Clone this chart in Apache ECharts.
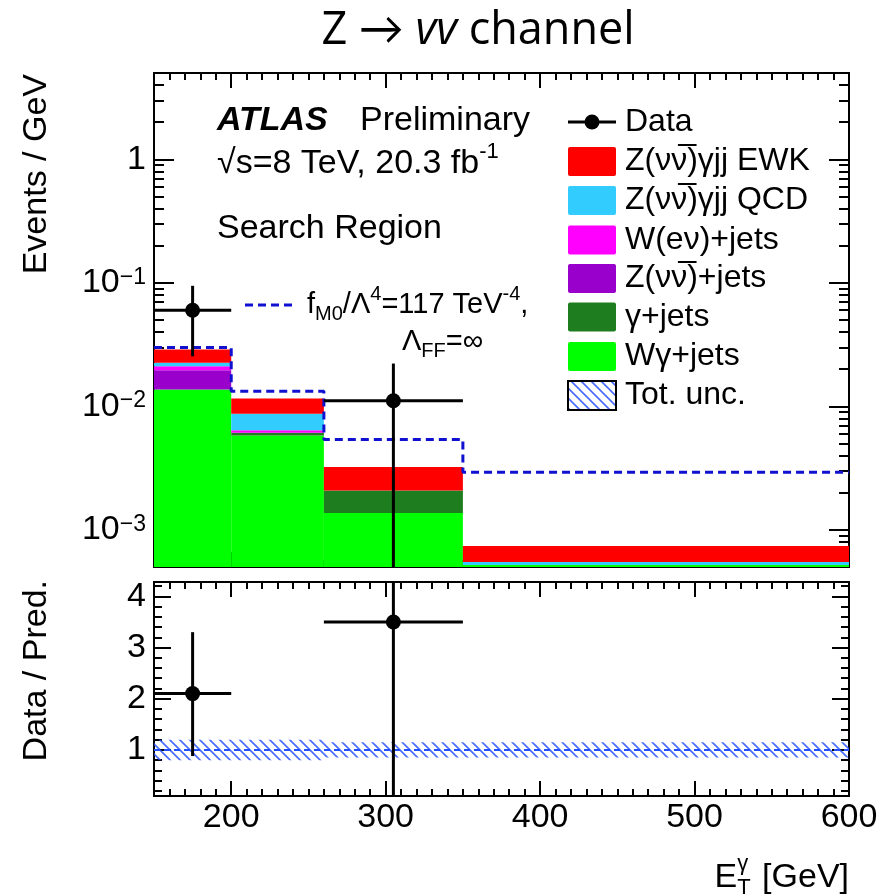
<!DOCTYPE html>
<html><head><meta charset="utf-8">
<script src="https://cdn.jsdelivr.net/npm/echarts@6/dist/echarts.min.js"></script>
<style>html,body{margin:0;padding:0;background:#fff}#c{width:881px;height:894px}</style>
</head><body><div id="c"></div>
<script>
// ---------- data ----------
const binEdges   = [150, 200, 260, 350, 600];
const wgammaJets = [0.01368, 0.00580, 0.00137, 0.00052];   // W gamma + jets
const gammaJets  = [0.00000, 0.00030, 0.00071, 0.00000];   // gamma + jets
const zJets      = [0.00594, 0.00000, 0.00000, 0.00000];   // Z(nunu) + jets
const wJets      = [0.00151, 0.00030, 0.00000, 0.00000];   // W(e nu) + jets
const zgQCD      = [0.00136, 0.00229, 0.00000, 0.00003];   // Z(nunu) gamma jj QCD
const zgEWK      = [0.00641, 0.00287, 0.00115, 0.00019];   // Z(nunu) gamma jj EWK
const signalFM0  = [0.0300, 0.01327, 0.00538, 0.00292];    // fM0 signal (dashed)
const dataX   = [175, 305];
const dataXLo = [150, 260];
const dataXHi = [200, 350];
const dataY   = [0.060, 0.0111];
const dataYLo = [0.0254, 0];
const dataYHi = [0.0946, 0.0222];
const ratioY  = [2.1, 3.5];
const ratioLo = [0.88, 0];
const ratioHi = [3.3, 6.9];
const uncRel  = [0.2, 0.2, 0.15, 0.15];
const logMajorTicks = [0.001, 0.01, 0.1, 1];
const ratioMajorTicks = [1, 2, 3, 4];
const xMajorTicks = [200, 300, 400, 500];
const xTickLabels = [200, 300, 400, 500, 600];
const yMin = 5e-4, yMax = 5;
const rMin = 0.1, rMax = 4.28;

const components = [
  {name: 'Wγ+jets', vals: wgammaJets, color: '#00ff00'},
  {name: 'γ+jets', vals: gammaJets, color: '#1e7d1e'},
  {name: 'Z(νν̅)+jets', vals: zJets, color: '#9900cc'},
  {name: 'W(eν)+jets', vals: wJets, color: '#ff00ff'},
  {name: 'Z(νν̅)γjj QCD', vals: zgQCD, color: '#33ccff'},
  {name: 'Z(νν̅)γjj EWK', vals: zgEWK, color: '#ff0000'}
];

// ---------- helpers ----------
const FF = '"Liberation Sans", Arial, sans-serif';
const mctx = document.createElement('canvas').getContext('2d');
function tw(t, font) { mctx.font = font; return mctx.measureText(t).width; }
function seqText(x, y, pieces, anchor) {
  let total = 0;
  pieces.forEach(p => { total += (p.adv !== undefined ? p.adv : tw(p.t, p.font)); });
  let cx = anchor === 'right' ? x - total : (anchor === 'center' ? x - total / 2 : x);
  return pieces.map(p => {
    const el = {type: 'text', x: cx, y: y + (p.dy || 0), z: 100,
      style: {text: p.t, font: p.font, fill: '#000', align: 'left', verticalAlign: 'middle'}};
    cx += (p.adv !== undefined ? p.adv : tw(p.t, p.font));
    return el;
  });
}
// hatch pattern
const hc = document.createElement('canvas'); hc.width = 10; hc.height = 10;
(function () {
  const g = hc.getContext('2d');
  g.strokeStyle = 'rgba(40,80,255,0.85)'; g.lineWidth = 1.6;
  g.beginPath();
  g.moveTo(-2, -2); g.lineTo(12, 12);
  g.moveTo(-7, 3); g.lineTo(7, 17);
  g.moveTo(3, -7); g.lineTo(17, 7);
  g.stroke();
})();
const hatch = {image: hc, repeat: 'repeat'};

// ---------- series data ----------
const stackSeries = [];
const cum = binEdges.slice(0, -1).map(() => 0);
components.forEach(c => {
  const d = [];
  c.vals.forEach((v, i) => {
    const lo = cum[i]; const hi = cum[i] + v; cum[i] = hi;
    d.push([binEdges[i], binEdges[i + 1], lo, hi]);
  });
  stackSeries.push({
    type: 'custom', name: c.name, xAxisIndex: 0, yAxisIndex: 0, clip: true, z: 2,
    encode: {x: [0, 1], y: [3]},
    data: d,
    renderItem: function (params, api) {
      const x0 = api.value(0), x1 = api.value(1), lo = api.value(2), hi = api.value(3);
      if (!(hi > lo)) return null;
      const cs = params.coordSys;
      const pTL = api.coord([x0, hi]);
      const pTR = api.coord([x1, hi]);
      const yb = lo > yMin ? api.coord([x0, lo])[1] : cs.y + cs.height;
      return {type: 'rect', shape: {x: pTL[0], y: pTL[1], width: pTR[0] - pTL[0], height: yb - pTL[1]},
        style: {fill: c.color}};
    }
  });
});

const sigData = signalFM0.map((v, i) => [binEdges[i], v]);
sigData.push([binEdges[binEdges.length - 1], signalFM0[signalFM0.length - 1]]);

function pointsRender(params, api) {
  const x = api.value(0), xl = api.value(1), xh = api.value(2), y = api.value(3), yl = api.value(4), yh = api.value(5);
  const cs = params.coordSys;
  const c = api.coord([x, y]);
  const l = api.coord([xl, y]); const r = api.coord([xh, y]);
  const t = api.coord([x, yh]);
  let b;
  if (yl > 0) { b = api.coord([x, yl])[1]; } else { b = cs.y + cs.height; }
  const ls = {stroke: '#000', lineWidth: 3};
  return {type: 'group', children: [
    {type: 'line', shape: {x1: l[0], y1: c[1], x2: r[0], y2: c[1]}, style: ls},
    {type: 'line', shape: {x1: c[0], y1: Math.max(t[1], cs.y), x2: c[0], y2: Math.min(b, cs.y + cs.height)}, style: ls},
    {type: 'circle', shape: {cx: c[0], cy: c[1], r: 7.5}, style: {fill: '#000'}}
  ]};
}
const dataPts = dataX.map((x, i) => [x, dataXLo[i], dataXHi[i], dataY[i], dataYLo[i], dataYHi[i]]);
const ratioPts = dataX.map((x, i) => [x, dataXLo[i], dataXHi[i], ratioY[i], ratioLo[i], ratioHi[i]]);
const bandData = uncRel.map((u, i) => [binEdges[i], binEdges[i + 1], 1 - u, 1 + u]);

// minor log ticks
const logMinorTicks = [];
for (let d = -4; d <= 0; d++) for (let m = 2; m <= 9; m++) {
  const v = +(m * Math.pow(10, d)).toPrecision(3);
  if (v >= yMin && v <= yMax) logMinorTicks.push(v);
}
const ratioMinorTicks = [];
for (let k = 1; k <= 21; k++) { const v = +(k * 0.2).toFixed(1); if (v > rMin && v < rMax && v % 1 !== 0) ratioMinorTicks.push(v); }

// ---------- axes ----------
const tickStyle = {color: '#000', width: 2};
function xAx(grid, pos, major, labels) {
  const base = {type: 'value', gridIndex: grid, position: pos, min: 150, max: 600,
    axisLine: {show: false}, splitLine: {show: false}};
  if (major) {
    return Object.assign(base, {interval: 50,
      axisTick: {show: true, inside: true, length: 15, lineStyle: tickStyle, customValues: xMajorTicks},
      axisLabel: labels ? {show: true, customValues: xTickLabels, margin: 5, fontSize: 34, fontFamily: FF, color: '#000'} : {show: false}});
  }
  return Object.assign(base, {interval: 10,
    axisTick: {show: true, inside: true, length: 7, lineStyle: tickStyle}, axisLabel: {show: false}});
}
function logAx(pos, major, labels) {
  return {type: 'log', logBase: 10, gridIndex: 0, position: pos, min: yMin, max: yMax,
    axisLine: {show: false}, splitLine: {show: false}, minorTick: {show: false},
    axisTick: {show: true, inside: true, length: major ? 20 : 10, lineStyle: tickStyle,
      customValues: major ? logMajorTicks : logMinorTicks},
    axisLabel: labels ? {show: true, customValues: logMajorTicks, margin: 8, color: '#000',
      formatter: function (v) {
        if (Math.abs(v - 1) < 1e-9) return '{b|1}';
        const e = Math.round(Math.log10(v));
        return '{b|10}{s|−' + (-e) + '}';
      },
      rich: {b: {fontSize: 34, fontFamily: FF, color: '#000'}, s: {fontSize: 23, fontFamily: FF, color: '#000', verticalAlign: 'top'}}
    } : {show: false}};
}
function rAx(pos, major, labels) {
  return {type: 'value', gridIndex: 1, position: pos, min: rMin, max: rMax,
    axisLine: {show: false}, splitLine: {show: false},
    axisTick: {show: true, inside: true, length: major ? 17 : 8, lineStyle: tickStyle,
      customValues: major ? ratioMajorTicks : ratioMinorTicks},
    axisLabel: labels ? {show: true, customValues: ratioMajorTicks, margin: 8, fontSize: 34, fontFamily: FF, color: '#000'} : {show: false}};
}

// ---------- graphic texts ----------
const F34 = '34px ' + FF, F22 = '22px ' + FF, F29 = '29px ' + FF, F20 = '20px ' + FF, F32 = '32px ' + FF;
const TF = '"Open Sans", Lato, sans-serif';
let gfx = [];
gfx = gfx.concat(seqText(478, 31, [
  {t: 'Z → ', font: '45px ' + TF},
  {t: 'vv', font: 'italic 45px ' + TF},
  {t: ' channel', font: '45px ' + TF}], 'center'));
gfx.push({type: 'text', x: 217, y: 121, z: 100, style: {text: 'ATLAS', font: 'italic bold 34px ' + FF, fill: '#000', verticalAlign: 'middle'}});
gfx.push({type: 'text', x: 360, y: 121, z: 100, style: {text: 'Preliminary', font: F34, fill: '#000', verticalAlign: 'middle'}});
gfx = gfx.concat(seqText(217, 164, [{t: '√s=8 TeV, 20.3 fb', font: F34}, {t: '-1', font: F22, dy: -12}], 'left'));
gfx.push({type: 'text', x: 217, y: 229, z: 100, style: {text: 'Search Region', font: F34, fill: '#000', verticalAlign: 'middle'}});
// signal legend
gfx.push({type: 'line', z: 100, shape: {x1: 245, y1: 305, x2: 297, y2: 305}, style: {stroke: '#1010d0', lineWidth: 3, lineDash: [8, 5]}});
gfx = gfx.concat(seqText(307, 305, [
  {t: 'f', font: F29}, {t: 'M0', font: F20, dy: 9}, {t: '/Λ', font: F29}, {t: '4', font: F20, dy: -11},
  {t: '=117 TeV', font: F29}, {t: '-4', font: F20, dy: -11}, {t: ',', font: F29}], 'left'));
gfx = gfx.concat(seqText(402, 342, [{t: 'Λ', font: F29}, {t: 'FF', font: F20, dy: 9}, {t: '=∞', font: F29}], 'left'));
// main legend
const legY = [122, 161.5, 200.5, 240, 278.5, 317, 356.5, 395.5];
const legBoxX = 568, legBoxW = 48, legBoxH = 29, legTextX = 625;
gfx.push({type: 'line', z: 100, shape: {x1: legBoxX, y1: legY[0], x2: legBoxX + legBoxW, y2: legY[0]}, style: {stroke: '#000', lineWidth: 3}});
gfx.push({type: 'circle', z: 100, shape: {cx: legBoxX + legBoxW / 2, cy: legY[0], r: 7.5}, style: {fill: '#000'}});
gfx.push({type: 'text', x: legTextX, y: legY[0], z: 100, style: {text: 'Data', font: F32, fill: '#000', verticalAlign: 'middle'}});
const legOrder = components.slice().reverse();
legOrder.forEach((c, i) => {
  const y = legY[i + 1];
  gfx.push({type: 'rect', z: 100, shape: {x: legBoxX, y: y - legBoxH / 2, width: legBoxW, height: legBoxH, r: 2}, style: {fill: c.color}});
  gfx.push({type: 'text', x: legTextX, y: y, z: 100, style: {text: c.name, font: F32, fill: '#000', verticalAlign: 'middle'}});
});
gfx.push({type: 'rect', z: 100, shape: {x: legBoxX, y: legY[7] - legBoxH / 2, width: legBoxW, height: legBoxH}, style: {fill: hatch, stroke: '#000', lineWidth: 2}});
gfx.push({type: 'text', x: legTextX, y: legY[7], z: 100, style: {text: 'Tot. unc.', font: F32, fill: '#000', verticalAlign: 'middle'}});
// axis titles
gfx.push({type: 'text', x: 37, y: 74, rotation: Math.PI / 2, z: 100, style: {text: 'Events / GeV', font: F34, fill: '#000', align: 'right', verticalAlign: 'middle'}});
gfx.push({type: 'text', x: 37, y: 580, rotation: Math.PI / 2, z: 100, style: {text: 'Data / Pred.', font: F34, fill: '#000', align: 'right', verticalAlign: 'middle'}});
const gw = Math.max(tw('γ', F22), tw('T', F22));
gfx = gfx.concat(seqText(849, 878, [
  {t: 'E', font: F34}, {t: 'γ', font: F22, dy: -14, adv: 0}, {t: 'T', font: F22, dy: 10, adv: gw + 2}, {t: ' [GeV]', font: F34}], 'right'));

// ---------- chart ----------
const chart = echarts.init(document.getElementById('c'), null, {renderer: 'canvas'});
chart.setOption({
  animation: false,
  backgroundColor: '#fff',
  grid: [
    {left: 154, right: 32, top: 73, height: 494, show: true, borderColor: '#000', borderWidth: 2, backgroundColor: 'transparent', outerBoundsMode: 'none', containLabel: false},
    {left: 154, right: 32, top: 582, height: 214, show: true, borderColor: '#000', borderWidth: 2, backgroundColor: 'transparent', outerBoundsMode: 'none', containLabel: false}
  ],
  xAxis: [
    xAx(0, 'bottom', true, false), xAx(0, 'bottom', false, false), xAx(0, 'top', true, false), xAx(0, 'top', false, false),
    xAx(1, 'bottom', true, true), xAx(1, 'bottom', false, false), xAx(1, 'top', true, false), xAx(1, 'top', false, false)
  ],
  yAxis: [
    logAx('left', true, true), logAx('left', false, false), logAx('right', true, false), logAx('right', false, false),
    rAx('left', true, true), rAx('left', false, false), rAx('right', true, false), rAx('right', false, false)
  ],
  series: stackSeries.concat([
    {type: 'line', name: 'signal', xAxisIndex: 0, yAxisIndex: 0, data: sigData, step: 'end', symbol: 'none', z: 5,
      lineStyle: {color: '#1010d0', width: 3, type: [8, 5]}},
    {type: 'custom', name: 'Data', xAxisIndex: 0, yAxisIndex: 0, clip: true, z: 10,
      encode: {x: [0], y: [3]}, data: dataPts, renderItem: pointsRender},
    {type: 'custom', name: 'unc', xAxisIndex: 4, yAxisIndex: 4, clip: true, z: 3,
      encode: {x: [0, 1], y: [2, 3]}, data: bandData,
      renderItem: function (params, api) {
        const a = api.coord([api.value(0), api.value(3)]);
        const b = api.coord([api.value(1), api.value(2)]);
        return {type: 'rect', shape: {x: a[0], y: a[1], width: b[0] - a[0], height: b[1] - a[1]}, style: {fill: hatch}};
      }},
    {type: 'line', name: 'one', xAxisIndex: 4, yAxisIndex: 4, data: [[150, 1], [600, 1]], symbol: 'none', z: 4,
      lineStyle: {color: '#2050ff', width: 2, type: [6, 4]}},
    {type: 'custom', name: 'Ratio', xAxisIndex: 4, yAxisIndex: 4, clip: true, z: 10,
      encode: {x: [0], y: [3]}, data: ratioPts, renderItem: pointsRender}
  ]),
  graphic: gfx
});
</script></body></html>
